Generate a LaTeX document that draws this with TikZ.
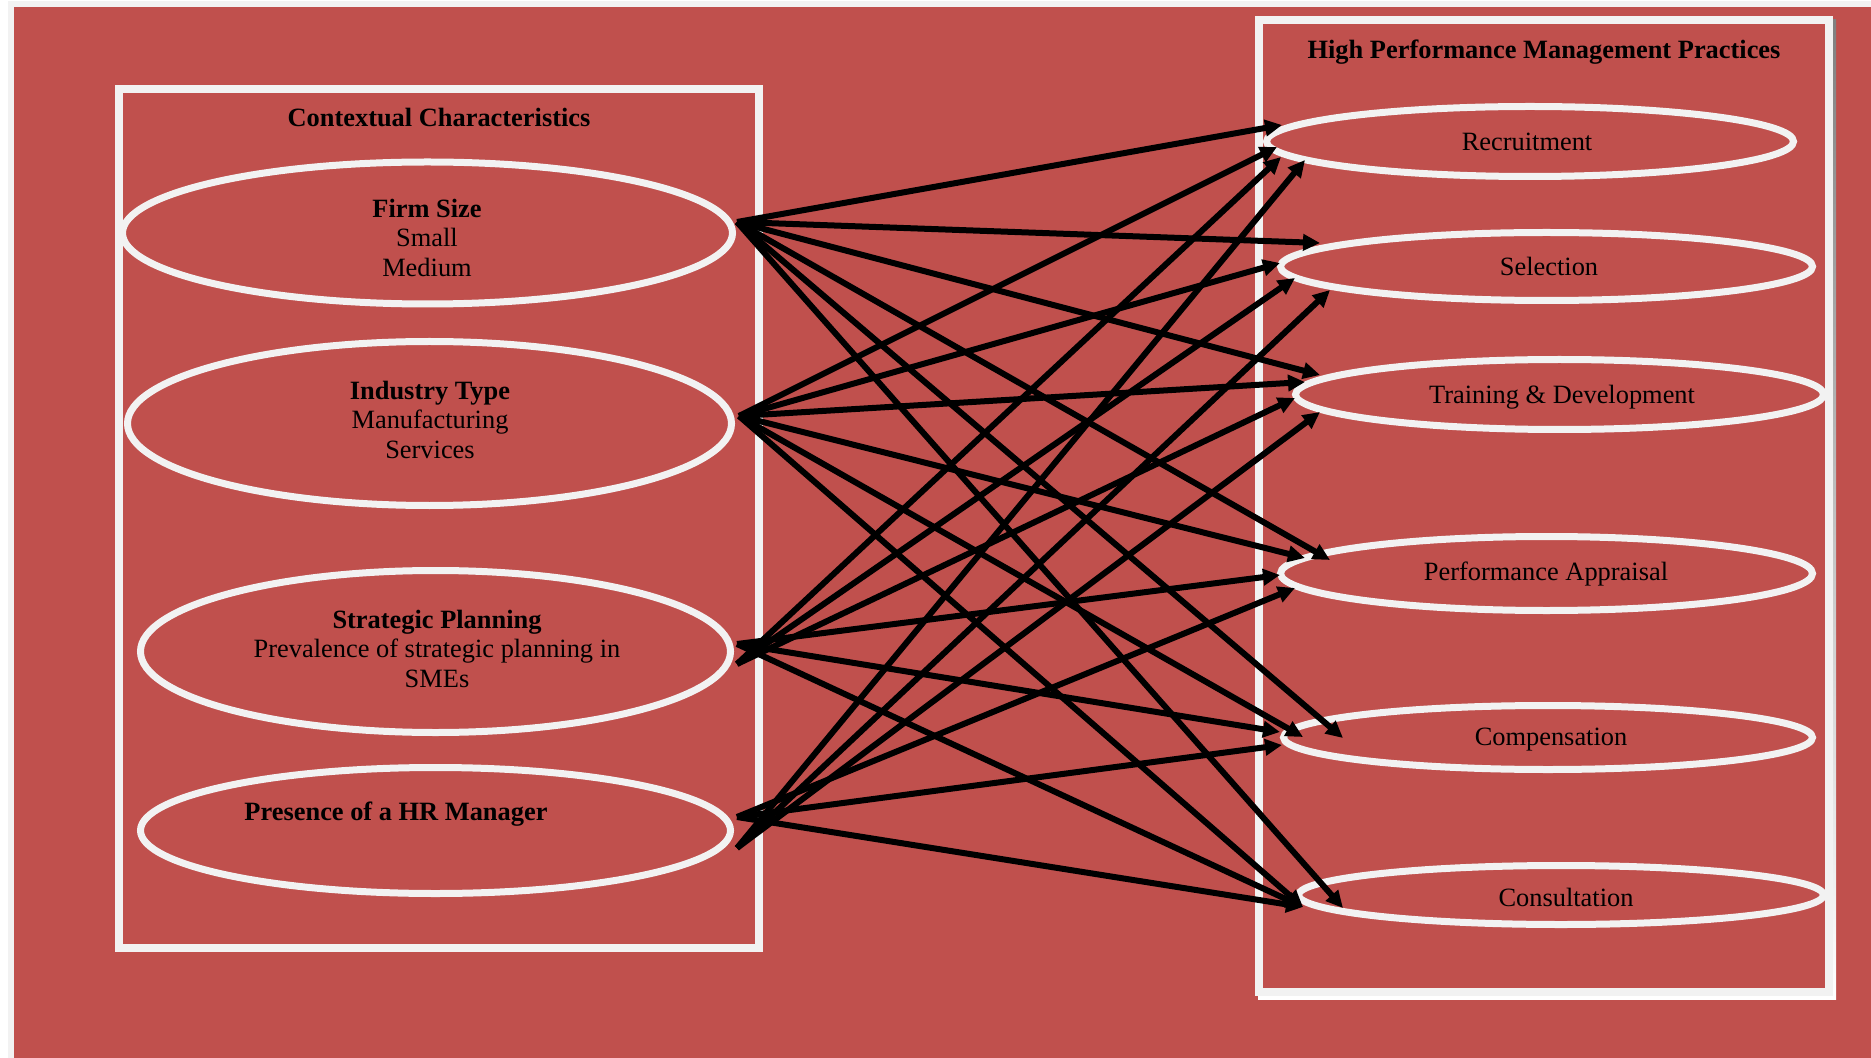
\documentclass[tikz,border=0pt]{standalone}
\usepackage{fontspec}
\setmainfont{Liberation Serif}
\usetikzlibrary{arrows.meta,shapes.geometric}
\definecolor{bgred}{HTML}{C0504D}
\definecolor{rim}{HTML}{F2F2F2}
\definecolor{shade}{HTML}{953734}

\begin{document}
\begin{tikzpicture}[x=0.5pt,y=-0.5pt,
  oval/.style={ellipse, draw=rim, line width=3.5pt, inner sep=0pt},
  lbl/.style={align=center, font=\fontsize{13.2}{14.75}\selectfont, text=black, inner sep=0pt},
  ttl/.style={align=center, font=\fontsize{13.2}{14.75}\selectfont\bfseries, text=black, inner sep=0pt},
  link/.style={draw=black, line width=3pt, -{Triangle[length=8.5pt,width=8pt]}},
  frame/.style={draw=rim, line width=4pt}]

\useasboundingbox (0,0) rectangle (1871,1058);
\fill[white] (0,0) rectangle (1871,1058);
\filldraw[fill=bgred, draw=rim, line width=3pt] (11,4) rectangle (1900,1100);

% left group frame
\draw[frame] (119,89) rectangle (759,948);
% right group frame with drop shadow
\fill[shade] (1258,19.5) rectangle (1836,999);
\fill[bgred] (1263,24.5) rectangle (1825,988);
\draw[frame] (1259,20.5) rectangle (1829,992);

% group titles
\node[ttl] (ctxT) at (439,118) {Contextual Characteristics};
\node[ttl] (hpmT) at (1544,52.5) {High Performance Management Practices};

% contextual characteristics
\node[oval, minimum width=305pt, minimum height=71pt] (fs) at (427.5,233) {};
\node[oval, minimum width=302pt, minimum height=82pt] (it) at (429.5,423.5) {};
\node[oval, minimum width=295pt, minimum height=81pt] (sp) at (435.5,651.5) {};
\node[oval, minimum width=295pt, minimum height=63pt] (hr) at (435.5,830.5) {};

\node[lbl] (fsT) at (427,237.5) {\textbf{Firm Size}\\Small\\ Medium};
\node[lbl] (itT) at (430,419.5) {\textbf{Industry Type}\\Manufacturing\\Services};
\node[lbl] (spT) at (437,648.5) {\textbf{Strategic Planning}\\Prevalence of strategic planning in\\SMEs};
\node[ttl] (hrT) at (396,814) {Presence of a HR Manager};

% management practices
\node[oval, minimum width=263.5pt, minimum height=35pt] (rec) at (1530,141.5) {};
\node[oval, minimum width=266pt, minimum height=34pt] (sel) at (1546.5,266.5) {};
\node[oval, minimum width=264pt, minimum height=35pt] (trd) at (1559.5,394.5) {};
\node[oval, minimum width=266pt, minimum height=37pt] (pa) at (1546.5,573.5) {};
\node[oval, minimum width=264.5pt, minimum height=32pt] (comp) at (1548,737.5) {};
\node[oval, minimum width=262.5pt, minimum height=29.5pt] (con) at (1561,895) {};

\node[lbl] (recT) at (1527,142) {Recruitment};
\node[lbl] (selT) at (1549,266) {Selection};
\node[lbl] (trdT) at (1562,397) {Training \& Development};
\node[lbl] (paT) at (1546,574) {Performance Appraisal};
\node[lbl] (compT) at (1551,740) {Compensation};
\node[lbl] (conT) at (1566,897) {Consultation};

% connector start points on the right tips of the left ovals
\coordinate (fsS) at (737,222);
\coordinate (itS) at (739,416);
\coordinate (spS) at (737,644);
\coordinate (spL) at (737,664);
\coordinate (hrS) at (737,817);
\coordinate (hrL) at (737,848);

% arrow tips on the practice ovals
\coordinate (fs-rec) at (1282,125);
\coordinate (fs-sel) at (1320,243);
\coordinate (fs-trd) at (1320,375);
\coordinate (fs-pa) at (1330,560);
\coordinate (fs-comp) at (1343,738);
\coordinate (fs-con) at (1343,908);

\coordinate (it-rec) at (1277,147);
\coordinate (it-sel) at (1280,263);
\coordinate (it-trd) at (1305,382);
\coordinate (it-pa) at (1305,558);
\coordinate (it-comp) at (1303,737);
\coordinate (it-con) at (1303,907);

\coordinate (sp-rec) at (1281,157);
\coordinate (sp-sel) at (1295,278);
\coordinate (sp-trd) at (1295,398);
\coordinate (sp-pa) at (1280,575);
\coordinate (sp-comp) at (1280,732);
\coordinate (sp-con) at (1303,907);

\coordinate (hr-rec) at (1305,160);
\coordinate (hr-sel) at (1330,290);
\coordinate (hr-trd) at (1320,412);
\coordinate (hr-pa) at (1295,588);
\coordinate (hr-comp) at (1282,745);
\coordinate (hr-con) at (1303,907);

% links
\foreach \t in {rec,sel,trd,pa,comp,con} {
  \draw[link] (fsS) -- (fs-\t);
  \draw[link] (itS) -- (it-\t);
}
\foreach \t in {rec,sel,trd} {
  \draw[link] (spL) -- (sp-\t);
  \draw[link] (hrL) -- (hr-\t);
}
\foreach \t in {pa,comp,con} {
  \draw[link] (spS) -- (sp-\t);
  \draw[link] (hrS) -- (hr-\t);
}
\end{tikzpicture}
\end{document}
